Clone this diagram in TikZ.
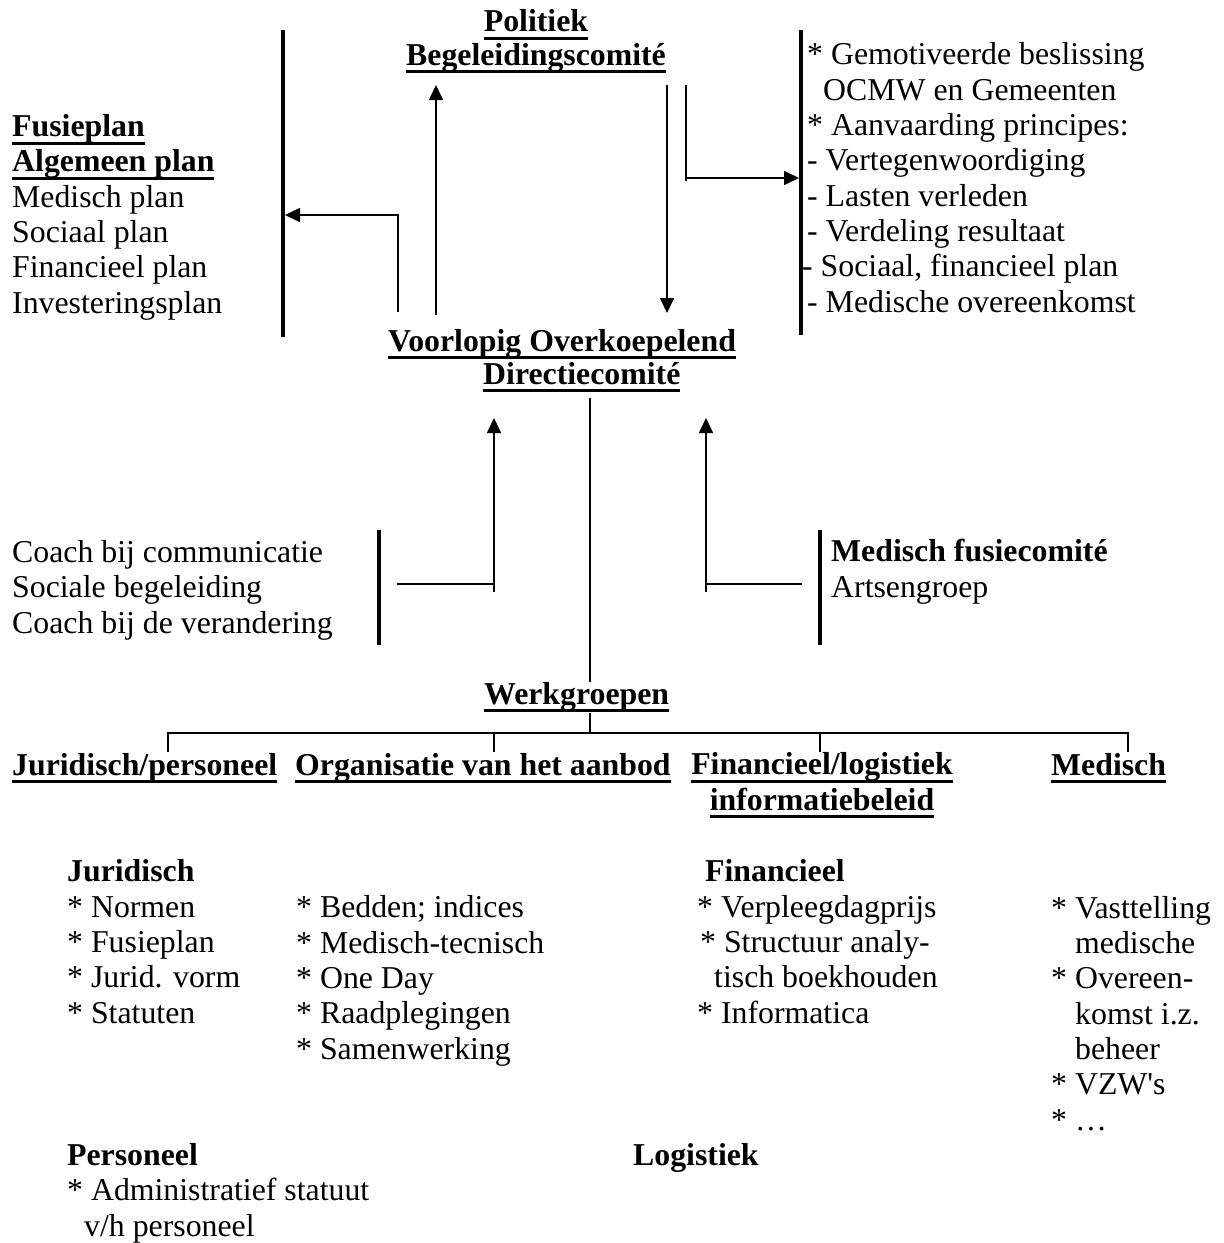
\documentclass[tikz,border=0pt]{standalone}
\usepackage{fontspec}
\setmainfont{Liberation Serif}
\usetikzlibrary{arrows.meta}
\usetikzlibrary{positioning}

\newsavebox{\ulbox}
\newcommand{\ulb}[1]{\sbox{\ulbox}{\bfseries #1}\rlap{\rule[-8pt]{\wd\ulbox}{3pt}}\usebox{\ulbox}}

\begin{document}
\begin{tikzpicture}[x=1pt,y=-1pt]
	%\draw[help lines,step=100] (0,0) grid (1224,1243);
	\useasboundingbox (0,0) rectangle (1224,1243);

	% multi-line nodes sit on the baseline of their last line
	\tikzstyle{tnode} = [anchor=base west,inner sep=0pt,align=left,font=\fontsize{31.8}{35.3}\selectfont]
	\tikzstyle{hnode} = [tnode,anchor=base,align=center]
	\tikzstyle{bar} = [line width=3.4pt]
	\tikzstyle{line} = [line width=1.7pt]
	\tikzstyle{vedge} = [line,-{Triangle[length=15pt,width=14pt]}]

	% titles
	\node[hnode] (pol) at (536,65) {\ulb{Politiek}\\[-2pt]\ulb{Begeleidingscomité}};
	\node[tnode] (vo) at (388,351) {\ulb{Voorlopig Overkoepelend}};
	\node[tnode] (dc) at (483,384) {\ulb{Directiecomité}};

	% side blocks
	\node[tnode] (fplan) at (12,313) {\ulb{Fusieplan}\\\ulb{Algemeen plan}\\Medisch plan\\Sociaal plan\\Financieel plan\\Investeringsplan};
	\node[tnode] (besl) at (807,312) {* Gemotiveerde beslissing\\\hspace*{16pt}OCMW en Gemeenten\\* Aanvaarding principes:\\- Vertegenwoordiging\\- Lasten verleden\\- Verdeling resultaat\\\hspace*{-5pt}- Sociaal, financieel plan\\- Medische overeenkomst};
	\node[tnode] (coach) at (12,633) {Coach bij communicatie\\Sociale begeleiding\\Coach bij de verandering};
	\node[tnode] (mfc) at (831,597) {\textbf{Medisch fusiecomité}\\Artsengroep};

	% werkgroepen
	\node[tnode] (wg) at (484,704) {\ulb{Werkgroepen}};
	\node[tnode] (jp) at (12,775) {\ulb{Juridisch/personeel}};
	\node[tnode] (org) at (295,775) {\ulb{Organisatie van het aanbod}};
	\node[hnode] (fl) at (822,810) {\ulb{Financieel/logistiek}\\\ulb{informatiebeleid}};
	\node[tnode] (med) at (1051,775) {\ulb{Medisch}};

	\node[tnode] (jur) at (67,1023) {\textbf{Juridisch}\\* Normen\\* Fusieplan\\* Jurid. vorm\\* Statuten};
	\node[tnode] (oa) at (296,1059) {* Bedden; indices\\* Medisch-tecnisch\\* One Day\\* Raadplegingen\\* Samenwerking};
	\node[tnode] (fin) at (697,1023) {\hspace*{8pt}\textbf{Financieel}\\* Verpleegdagprijs\\\hspace*{3pt}* Structuur analy-\\\hspace*{17pt}tisch boekhouden\\* Informatica};
	\node[tnode] (md) at (1051,1130) {* Vasttelling\\\hspace*{24pt}medische\\* Overeen-\\\hspace*{24pt}komst i.z.\\\hspace*{24pt}beheer\\* VZW\textquotesingle s\\* …};
	\node[tnode] (pers) at (67,1236) {\textbf{Personeel}\\* Administratief statuut\\\hspace*{17pt}v/h personeel};
	\node[tnode] (log) at (633,1165) {\textbf{Logistiek}};

	% bars
	\coordinate (lbarT) at (283,30);
	\coordinate (lbarB) at (283,337);
	\coordinate (rbarT) at (801,30);
	\coordinate (rbarB) at (801,335);
	\coordinate (cbarT) at (379,530);
	\coordinate (cbarB) at (379,645);
	\coordinate (mbarT) at (820,530);
	\coordinate (mbarB) at (820,645);
	\draw[bar] (lbarT) -- (lbarB);
	\draw[bar] (rbarT) -- (rbarB);
	\draw[bar] (cbarT) -- (cbarB);
	\draw[bar] (mbarT) -- (mbarB);

	% connectors round the two committees
	\coordinate (plan0) at (398,312);
	\coordinate (plan1) at (285,215);
	\coordinate (up0) at (436,315);
	\coordinate (up1) at (436,85);
	\coordinate (dn0) at (667,85);
	\coordinate (dn1) at (667,313);
	\coordinate (besl0) at (686,85);
	\coordinate (besl1) at (799,178);
	\draw[vedge] (plan0) |- (plan1);
	\draw[vedge] (up0) -- (up1);
	\draw[vedge] (dn0) -- (dn1);
	\draw[line] (besl0) -- (besl0 |- 0,181);
	\draw[vedge] (besl0 |- besl1) -- (besl1);

	% support groups
	\coordinate (dcs) at (590,398);
	\coordinate (coach0) at (397,584);
	\coordinate (coach1) at (494,592);
	\coordinate (coach2) at (494,418);
	\coordinate (mfc0) at (802,584);
	\coordinate (mfc1) at (706,592);
	\coordinate (mfc2) at (706,418);
	\draw[line] (dcs) -- (dcs |- wg.north);
	\draw[line] (coach0) -- (coach0 -| coach1);
	\draw[vedge] (coach1) -- (coach2);
	\draw[line] (mfc0) -- (mfc0 -| mfc1);
	\draw[vedge] (mfc1) -- (mfc2);

	% tree
	\coordinate (wgs) at (590,713);
	\coordinate (wgj) at (590,733);
	\coordinate (d1) at (168,752);
	\coordinate (d2) at (494,752);
	\coordinate (d3) at (820,752);
	\coordinate (d4) at (1128,752);
	\draw[line] (wgs) -- (wgj);
	\draw[line] (d1) -- (d1 |- wgj) -- (d4 |- wgj) -- (d4);
	\draw[line] (d2) -- (d2 |- wgj);
	\draw[line] (d3) -- (d3 |- wgj);

\end{tikzpicture}
\end{document}
